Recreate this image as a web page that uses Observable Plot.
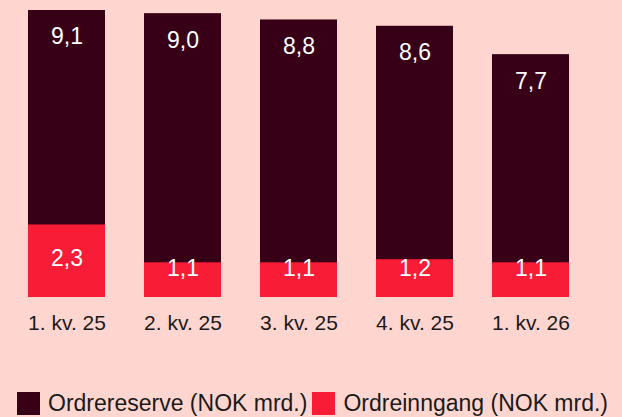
<!DOCTYPE html>
<html>
<head>
<meta charset="utf-8">
<script src="https://cdn.jsdelivr.net/npm/d3@7"></script>
<script src="https://cdn.jsdelivr.net/npm/@observablehq/plot@0.6"></script>
<style>
  html, body { margin: 0; padding: 0; background: #ffd6cf; }
  body { width: 622px; height: 417px; overflow: hidden; position: relative; font-family: "Liberation Sans", Arial, sans-serif; }
  #legend { position: absolute; left: 17px; top: 390px; display: flex; align-items: center; font-size: 23px; color: #1a1a1a; white-space: nowrap; }
  .sw { width: 23px; height: 23px; display: inline-block; }
  .lab { margin-left: 8px; margin-right: 5px; }
</style>
</head>
<body>
<div id="chart"></div>
<div id="legend"></div>
<script>
const quarters = ["1. kv. 25", "2. kv. 25", "3. kv. 25", "4. kv. 25", "1. kv. 26"];
const ordrereserve = [9.1, 9.0, 8.8, 8.6, 7.7];
const ordreinngang = [2.3, 1.1, 1.1, 1.2, 1.1];
const seriesNames = ["Ordrereserve (NOK mrd.)", "Ordreinngang (NOK mrd.)"];
const colors = ["#370017", "#f91c37"];

const reserve = quarters.map((q, i) => ({q, v: ordrereserve[i]}));
const inngang = quarters.map((q, i) => ({q, v: ordreinngang[i]}));
const fmt = v => v.toFixed(1).replace(".", ",");

const plot = Plot.plot({
  width: 622,
  height: 380,
  marginTop: 10,
  marginBottom: 83,
  marginLeft: 28,
  marginRight: 53,
  style: {background: "transparent", fontFamily: "'Liberation Sans', Arial, sans-serif", fontSize: "21px", color: "#1a1a1a"},
  x: {domain: quarters, paddingInner: 0.34, paddingOuter: 0, tickSize: 0, tickPadding: 18, label: null},
  y: {domain: [0, 9.1], axis: null},
  marks: [
    Plot.barY(reserve, {x: "q", y: "v", fill: colors[0]}),
    Plot.barY(inngang, {x: "q", y: "v", fill: colors[1]}),
    Plot.text(reserve, {x: "q", y: "v", text: d => fmt(d.v), dy: 26.5, fill: "white", fontSize: 23, lineAnchor: "middle"}),
    Plot.text(inngang, {x: "q", y: d => Math.max(d.v / 2 + 0.07, 0.9), text: d => fmt(d.v), fill: "white", fontSize: 23, lineAnchor: "middle"})
  ]
});
document.getElementById("chart").append(plot);

const legend = document.getElementById("legend");
seriesNames.forEach((name, i) => {
  const sw = document.createElement("span");
  sw.className = "sw";
  sw.style.background = colors[i];
  const lab = document.createElement("span");
  lab.className = "lab";
  lab.textContent = name;
  legend.append(sw, lab);
});
</script>
</body>
</html>
